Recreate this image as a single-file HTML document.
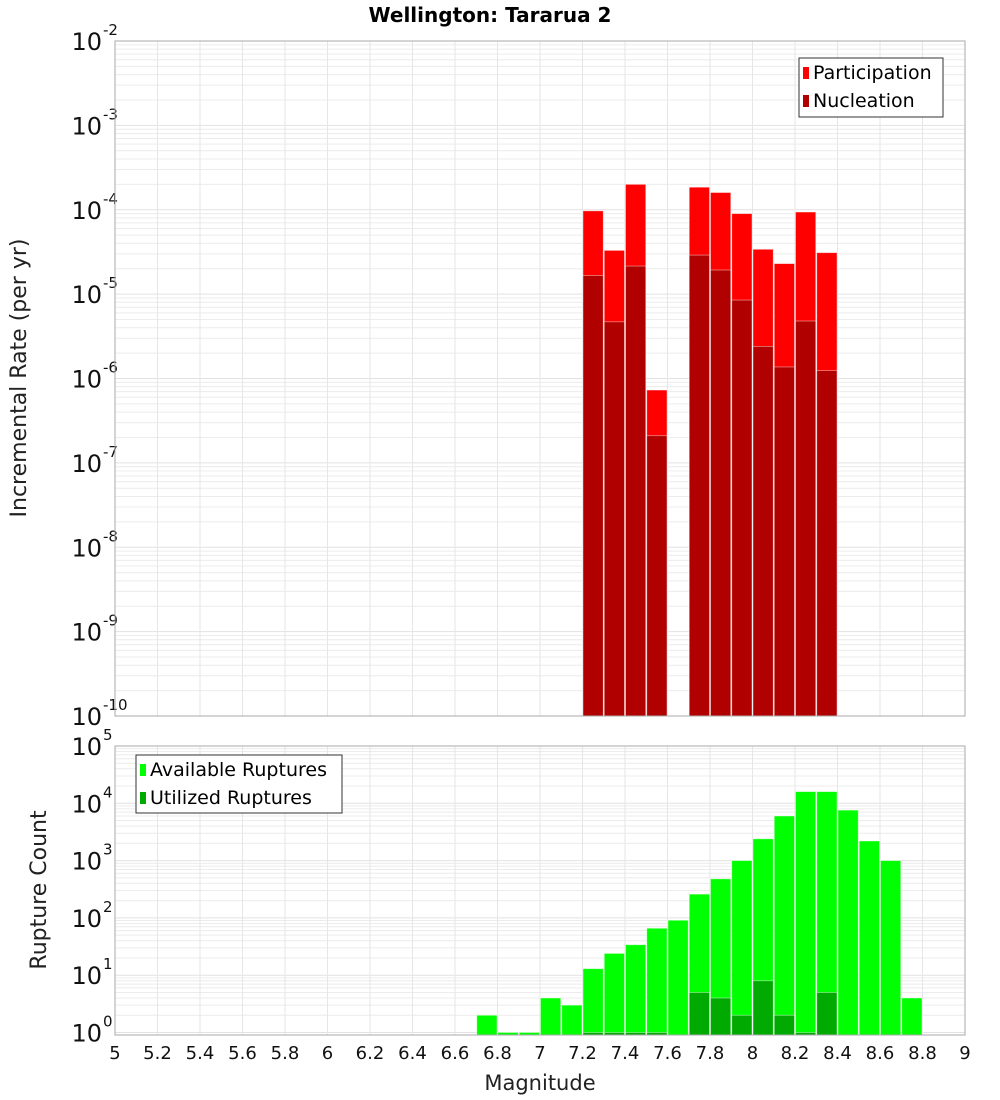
<!DOCTYPE html>
<html><head><meta charset="utf-8"><style>
body{margin:0;background:#fff;}
svg{display:block;font-family:"DejaVu Sans","Liberation Sans",sans-serif;}
</style></head><body>
<svg id="chart" width="1000" height="1100" viewBox="0 0 1000 1100">
<text x="490" y="22" text-anchor="middle" font-size="20" font-weight="bold">Wellington: Tararua 2</text>
<g id="topPanel"></g><g id="botPanel"></g>
<text transform="translate(26,378) rotate(-90)" text-anchor="middle" font-size="22" fill="#222">Incremental Rate (per yr)</text>
<text transform="translate(46,890) rotate(-90)" text-anchor="middle" font-size="22" fill="#222">Rupture Count</text>
<text x="540" y="1090" text-anchor="middle" font-size="21" fill="#222">Magnitude</text>
<g>
<rect x="799" y="58" width="144" height="59" fill="#fff" stroke="#333"/>
<rect x="803" y="67" width="6" height="12" fill="#ff0000"/>
<text x="813" y="79" font-size="19">Participation</text>
<rect x="803" y="95" width="6" height="12" fill="#b00000"/>
<text x="813" y="107" font-size="19">Nucleation</text>
</g>
<g>
<rect x="136" y="755" width="206" height="58" fill="#fff" stroke="#333"/>
<rect x="140" y="764" width="6" height="12" fill="#00ff00"/>
<text x="150" y="776" font-size="19">Available Ruptures</text>
<rect x="140" y="792" width="6" height="12" fill="#00aa00"/>
<text x="150" y="804" font-size="19">Utilized Ruptures</text>
</g>
</svg>
<script>
const rateMags=[7.25,7.35,7.45,7.55,7.75,7.85,7.95,8.05,8.15,8.25,8.35];
const participation=[9.7e-5,3.3e-5,2.0e-4,7.3e-7,1.85e-4,1.6e-4,9e-5,3.4e-5,2.3e-5,9.4e-5,3.1e-5];
const nucleation=[1.66e-5,4.7e-6,2.15e-5,2.1e-7,2.9e-5,1.93e-5,8.5e-6,2.4e-6,1.37e-6,4.8e-6,1.24e-6];
const countMags=[6.75,6.85,6.95,7.05,7.15,7.25,7.35,7.45,7.55,7.65,7.75,7.85,7.95,8.05,8.15,8.25,8.35,8.45,8.55,8.65,8.75];
const available=[2,1,1,4,3,13,24,34,66,91,260,480,1000,2400,6000,16000,16000,7600,2200,1000,4];
const utilized=[0,0,0,0,0,1,1,1,1,0,5,4,2,8,2,1,5,0,0,0,0];
const xTicks=["5","5.2","5.4","5.6","5.8","6","6.2","6.4","6.6","6.8","7","7.2","7.4","7.6","7.8","8","8.2","8.4","8.6","8.8","9"];
const topExps=[-2,-3,-4,-5,-6,-7,-8,-9,-10];
const botExps=[5,4,3,2,1,0];
const NS="http://www.w3.org/2000/svg";
const X0=115,X1=965;
const xs=m=>X0+(m-5)/4*(X1-X0);
const yTop=v=>41+(-2-Math.log10(v))*84.375;
const yBot=v=>746+(5-Math.log10(v))*57.3;
function mk(p,t,a){const e=document.createElementNS(NS,t);for(const k in a)e.setAttribute(k,a[k]);p.appendChild(e);return e;}
function panel(g,yT,yB,yf,exps,name){
  mk(g,'rect',{x:X0,y:yT,width:X1-X0,height:yB-yT,fill:'#fff'});
  for(let i=0;i<exps.length;i++){const e=exps[i];
    for(let k=1;k<10;k++){const y=yf(k*Math.pow(10,e));if(y<yT||y>yB)continue;
      const l=mk(g,'line',{x1:X0,x2:X1,y1:y,y2:y,stroke:k==1?'#e2e2e2':'#ececec','stroke-width':1});
      
      }
  }
  for(let i=0;i<xTicks.length;i++){const x=xs(+xTicks[i]);
    const l=mk(g,'line',{x1:x,x2:x,y1:yT,y2:yB,stroke:'#e6e6e6'});
    
    }
  for(let i=0;i<exps.length;i++){const y=yf(Math.pow(10,exps[i]));
    const t=mk(g,'text',{x:102,y:y+9,'text-anchor':'end','font-size':24,fill:'#111'});
    t.textContent='10';
    
    
    const s=mk(g,'text',{x:103,y:y-6,'font-size':15,fill:'#111'});
    s.textContent=String(exps[i]);
    
    }
}
function bars(g,mags,vals,yf,yB,color,name){
  for(let i=0;i<mags.length;i++){if(!(vals[i]>0))continue;
    const x=xs(mags[i]-0.05)+0.5,w=xs(mags[i]+0.05)-xs(mags[i]-0.05)-1,y=Math.max(yf(vals[i]),0);
    const r=mk(g,'rect',{x:x,y:y,width:w,height:yB-y,fill:color,stroke:'rgba(255,255,255,0.5)','stroke-width':0.8});
    
    }
}
const topG=document.getElementById('topPanel'),botG=document.getElementById('botPanel');
panel(topG,41,716,yTop,topExps,'top');
bars(topG,rateMags,participation,yTop,716,'#ff0000','participation-bar');
bars(topG,rateMags,nucleation,yTop,716,'#b00000','nucleation-bar');
mk(topG,'rect',{x:X0,y:41,width:X1-X0,height:675,fill:'none',stroke:'#aaa'});
panel(botG,746,1035,yBot,botExps,'bottom');
bars(botG,countMags,available,yBot,1035,'#00ff00','available-bar');
bars(botG,countMags,utilized,yBot,1035,'#00aa00','utilized-bar');
mk(botG,'rect',{x:X0,y:746,width:X1-X0,height:289,fill:'none',stroke:'#aaa'});
for(let i=0;i<xTicks.length;i++){
  const t=mk(botG,'text',{x:xs(+xTicks[i]),y:1059,'text-anchor':'middle','font-size':18,fill:'#111'});
  t.textContent=xTicks[i];
  
  }
</script>
</body></html>
